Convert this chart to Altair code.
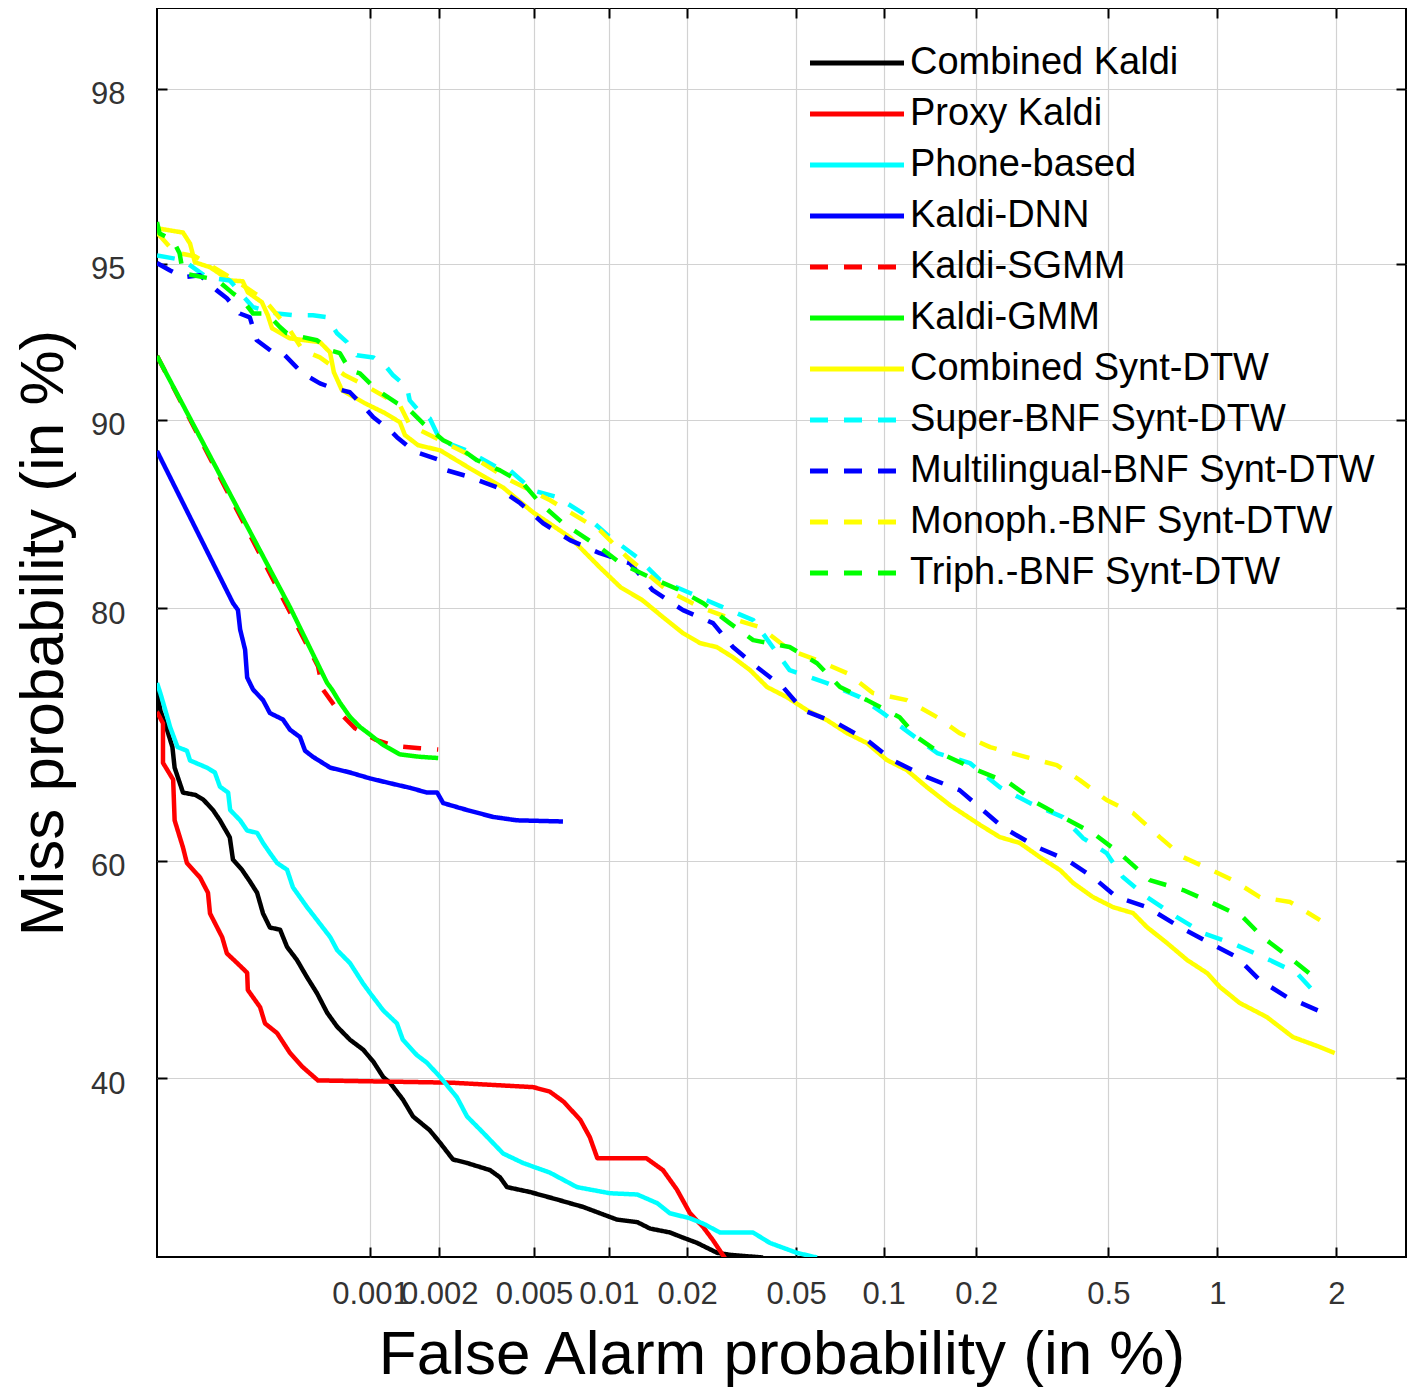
import altair as alt
import pandas as pd
from statistics import NormalDist

ND = NormalDist()

SERIES = ["Combined Kaldi", "Proxy Kaldi", "Phone-based", "Kaldi-DNN", "Kaldi-SGMM",
          "Kaldi-GMM", "Combined Synt-DTW", "Super-BNF Synt-DTW",
          "Multilingual-BNF Synt-DTW", "Monoph.-BNF Synt-DTW", "Triph.-BNF Synt-DTW"]
COLORS = ["#000000", "#ff0000", "#00ffff", "#0000ff", "#ff0000", "#00ff00",
          "#ffff00", "#00ffff", "#0000ff", "#ffff00", "#00ff00"]
SOLID = [1, 0]
DASH = [18, 16]
DASHES = [SOLID, SOLID, SOLID, SOLID, DASH, SOLID, SOLID, DASH, DASH, DASH, DASH]

X_TICKS = [0.001, 0.002, 0.005, 0.01, 0.02, 0.05, 0.1, 0.2, 0.5, 1, 2]
Y_TICKS = [40, 60, 80, 90, 95, 98]
X_RANGE_PCT = [0.0001, 2.907]
Y_RANGE_PCT = [25.14, 98.75]

# ---- data: false alarm (%) and miss (%) per system ----
COMB_KALDI_FA = [0.0001, 0.000104, 0.000112, 0.000119, 0.000122, 0.000134, 0.000154, 0.000168,
                 0.000187, 0.000202, 0.000225, 0.000233, 0.000257, 0.000281, 0.000303, 0.000323,
                 0.000348, 0.000388, 0.000418, 0.000464, 0.000516, 0.000574, 0.000638, 0.000709,
                 0.00081, 0.000927, 0.00103, 0.00114, 0.00122, 0.00139, 0.00154, 0.00182, 0.00202,
                 0.00229, 0.00263, 0.00329, 0.00362, 0.00387, 0.00482, 0.0062, 0.0079, 0.0095,
                 0.01075, 0.0129, 0.01445, 0.0172, 0.0193, 0.0218, 0.0259, 0.0289, 0.0381]
COMB_KALDI_MISS = [74.1, 72.7, 71.2, 69.8, 68.1, 66.0, 65.8, 65.4, 64.5, 63.6, 62.1, 60.1, 59.2,
                   58.1, 57.1, 55.2, 53.9, 53.7, 52.1, 50.9, 49.3, 47.8, 46.0, 44.7, 43.5, 42.6,
                   41.5, 40.1, 39.6, 38.1, 36.6, 35.4, 34.3, 32.9, 32.6, 32.0, 31.4, 30.6, 30.2,
                   29.6, 29.0, 28.4, 28.0, 27.8, 27.3, 27.0, 26.6, 26.2, 25.45, 25.3, 25.1]

PROXY_FA = [0.0001, 0.000107, 0.000107, 0.00012, 0.000122, 0.000134, 0.00014, 0.000162, 0.000177,
            0.000181, 0.000207, 0.000218, 0.000244, 0.000272, 0.000274, 0.000313, 0.00033,
            0.000376, 0.000431, 0.000494, 0.00058, 0.00225, 0.00496, 0.0058, 0.0066, 0.0077,
            0.0084, 0.009, 0.014, 0.0162, 0.0183, 0.0205, 0.023, 0.025, 0.028]
PROXY_MISS = [72.6, 71.7, 68.5, 67.1, 63.6, 61.2, 59.8, 58.5, 57.1, 55.2, 53.0, 51.5, 50.6, 49.7,
              48.1, 46.5, 45.0, 44.1, 42.3, 41.0, 39.8, 39.6, 39.2, 38.8, 37.9, 36.3, 34.8, 33.0,
              33.0, 32.0, 30.4, 28.5, 27.4, 26.4, 24.9]

PHONE_FA = [0.0001, 0.000104, 0.00011, 0.000116, 0.000126, 0.00014, 0.000145, 0.000175, 0.000191,
            0.000202, 0.000221, 0.000226, 0.000252, 0.000272, 0.000303, 0.000323, 0.000348,
            0.000376, 0.000418, 0.000445, 0.000516, 0.000574, 0.00066, 0.000709, 0.00081,
            0.000927, 0.000997, 0.00114, 0.00131, 0.00139, 0.0016, 0.00177, 0.00202, 0.00238,
            0.00263, 0.00307, 0.00373, 0.00451, 0.0058, 0.00747, 0.0101, 0.0129, 0.0154, 0.0172,
            0.0205, 0.0229, 0.0265, 0.035, 0.0403, 0.0503, 0.0592]
PHONE_MISS = [74.8, 74.0, 72.7, 71.4, 69.8, 69.5, 68.7, 68.1, 67.7, 66.5, 66.0, 64.5, 63.6, 62.7,
              62.5, 61.6, 60.7, 59.8, 59.2, 57.6, 55.8, 54.6, 53.0, 51.8, 50.6, 48.7, 47.8, 46.2,
              45.0, 43.5, 42.1, 41.4, 40.1, 38.3, 36.6, 35.2, 33.4, 32.6, 31.8, 30.6, 30.1, 30.0,
              29.3, 28.5, 28.1, 27.7, 27.0, 27.0, 26.2, 25.45, 25.1]

DNN_FA = [0.0001, 0.000233, 0.000246, 0.000252, 0.000266, 0.000272, 0.00029, 0.000323, 0.000348,
          0.0004, 0.000431, 0.00048, 0.000506, 0.00055, 0.00066, 0.00081, 0.000997, 0.00122,
          0.0015, 0.00177, 0.00196, 0.00208, 0.00263, 0.00338, 0.00426, 0.00656]
DNN_MISS = [88.66, 80.35, 79.9, 78.6, 77.2, 75.2, 74.3, 73.5, 72.5, 72.0, 71.2, 70.6, 69.5, 69.0,
            68.1, 67.7, 67.2, 66.8, 66.4, 66.0, 66.0, 65.1, 64.5, 63.9, 63.6, 63.5]

SGMM_FA = [0.0001, 0.00058, 0.000611, 0.00073, 0.000854, 0.00105, 0.00128, 0.00165, 0.00198]
SGMM_MISS = [92.37, 76.03, 74.3, 72.5, 71.3, 70.4, 69.9, 69.7, 69.6]

GMM_FA = [0.0001, 0.000431, 0.000638, 0.000672, 0.00073, 0.00081, 0.000899, 0.000997, 0.00114,
          0.00135, 0.00165, 0.00198]
GMM_MISS = [92.37, 80.09, 74.8, 74.3, 73.3, 72.2, 71.4, 70.8, 69.96, 69.2, 69.0, 68.9]

COMB_DTW_FA = [0.0001, 0.000134, 0.000145, 0.000153, 0.000181, 0.000225, 0.000259, 0.000274,
               0.000319, 0.00034, 0.000356, 0.000431, 0.000592, 0.000658, 0.000685, 0.000745,
               0.000944, 0.00116, 0.00135, 0.00142, 0.00162, 0.00202, 0.0027, 0.00372, 0.00495,
               0.007, 0.0092, 0.0111, 0.0135, 0.0162, 0.0193, 0.0224, 0.0258, 0.0296, 0.0342,
               0.0394, 0.0463, 0.0546, 0.0641, 0.0752, 0.0879, 0.1026, 0.1194, 0.139, 0.165,
               0.206, 0.237, 0.273, 0.314, 0.361, 0.395, 0.451, 0.515, 0.588, 0.643, 0.731, 0.83,
               0.939, 1.016, 1.145, 1.343, 1.563, 1.824, 1.98]
COMB_DTW_MISS = [95.80, 95.71, 95.47, 95.04, 94.92, 94.59, 94.57, 94.28, 94.01, 93.64, 93.25,
                 92.94, 92.82, 92.49, 91.81, 91.16, 90.66, 90.27, 89.90, 89.36, 88.92, 88.69,
                 87.87, 86.95, 85.68, 84.32, 82.58, 81.36, 80.54, 79.43, 78.35, 77.66, 77.39,
                 76.67, 75.74, 74.49, 73.73, 72.73, 71.95, 70.92, 70.12, 68.73, 67.90, 66.46,
                 64.92, 63.18, 62.12, 61.60, 60.34, 59.17, 57.99, 56.71, 55.79, 55.23, 53.94,
                 52.46, 50.88, 49.67, 48.37, 46.89, 45.60, 43.75, 42.83, 42.28]

SUPER_FA = [0.0001, 0.000134, 0.000175, 0.000225, 0.000271, 0.00029, 0.000375, 0.000445, 0.00055,
            0.000637, 0.000708, 0.000785, 0.00087, 0.00103, 0.00118, 0.00126, 0.00145, 0.00149,
            0.00165, 0.00182, 0.00202, 0.00262, 0.00352, 0.00398, 0.00495, 0.00621, 0.00789,
            0.0101, 0.0129, 0.0158, 0.0206, 0.0288, 0.0351, 0.042, 0.0474, 0.0641, 0.0832,
            0.0995, 0.122, 0.150, 0.191, 0.237, 0.293, 0.368, 0.422, 0.494, 0.550, 0.643, 0.778,
            0.916, 1.124, 1.368, 1.60, 1.824]
SUPER_MISS = [95.20, 95.09, 94.67, 94.59, 94.06, 93.87, 93.69, 93.64, 93.64, 93.58, 93.10, 92.82,
              92.39, 92.32, 91.98, 91.70, 91.27, 90.77, 90.31, 90.06, 89.14, 88.69, 87.91, 87.77,
              86.80, 86.46, 85.62, 84.32, 83.17, 81.80, 80.98, 79.89, 79.23, 77.18, 75.74, 74.78,
              73.73, 72.50, 70.92, 69.31, 68.48, 66.46, 65.10, 63.88, 62.04, 60.70, 58.53, 56.71,
              54.86, 53.39, 52.27, 50.88, 49.67, 47.35]

MULTI_FA = [0.0001, 0.000116, 0.000134, 0.000162, 0.000195, 0.000218, 0.000251, 0.00028,
            0.000302, 0.000359, 0.0004, 0.000463, 0.000494, 0.000592, 0.000658, 0.000809,
            0.000964, 0.00103, 0.00122, 0.00131, 0.00154, 0.00165, 0.00202, 0.00216, 0.00262,
            0.00352, 0.00439, 0.00545, 0.007, 0.0092, 0.0121, 0.0148, 0.0193, 0.025, 0.0296,
            0.0362, 0.0449, 0.0528, 0.0694, 0.0879, 0.107, 0.139, 0.177, 0.242, 0.308, 0.379,
            0.451, 0.528, 0.643, 0.793, 0.956, 1.124, 1.29, 1.51, 1.84]
MULTI_MISS = [95.02, 94.84, 94.67, 94.72, 94.33, 94.12, 93.69, 93.58, 92.88, 92.49, 92.46, 91.98,
              91.77, 91.41, 91.27, 91.08, 90.39, 90.10, 89.57, 89.27, 88.69, 88.56, 88.24, 87.77,
              87.50, 86.95, 86.15, 85.09, 84.16, 83.41, 82.82, 81.17, 79.89, 79.03, 77.39, 75.96,
              74.49, 72.73, 71.71, 70.36, 68.73, 67.31, 66.21, 63.00, 61.23, 60.07, 58.53, 56.71,
              55.79, 53.94, 52.46, 51.16, 49.02, 47.45, 46.06]

MONO_FA = [0.0001, 0.000122, 0.000153, 0.000181, 0.000251, 0.00033, 0.000431, 0.000494, 0.000592,
           0.000769, 0.000944, 0.00135, 0.00149, 0.00202, 0.0027, 0.00398, 0.00582, 0.0092,
           0.0118, 0.0168, 0.0224, 0.0281, 0.0372, 0.0474, 0.0592, 0.0752, 0.092, 0.1194, 0.150,
           0.177, 0.221, 0.286, 0.353, 0.413, 0.494, 0.588, 0.698, 0.809, 0.939, 1.097, 1.29,
           1.54, 1.824]
MONO_MISS = [95.71, 95.27, 95.18, 94.97, 94.52, 94.06, 93.19, 92.56, 92.32, 91.70, 91.34, 90.58,
             89.78, 89.14, 88.47, 87.30, 86.30, 84.71, 83.17, 81.17, 80.09, 79.43, 78.76, 77.18,
             76.46, 75.52, 74.04, 73.50, 72.18, 70.92, 69.79, 68.98, 68.31, 67.06, 65.36, 64.23,
             62.12, 60.34, 59.35, 58.26, 56.71, 56.25, 54.59]

TRI_FA = [0.0001, 0.000103, 0.00012, 0.000129, 0.000134, 0.000181, 0.000202, 0.000233, 0.000259,
          0.00029, 0.000337, 0.000387, 0.000417, 0.000494, 0.000574, 0.000658, 0.000729,
          0.000809, 0.000897, 0.00107, 0.00131, 0.00149, 0.0017, 0.00208, 0.00253, 0.0029,
          0.00362, 0.00451, 0.0053, 0.00656, 0.0092, 0.0111, 0.0144, 0.0188, 0.023, 0.0288,
          0.0351, 0.0474, 0.0592, 0.0711, 0.0879, 0.113, 0.129, 0.153, 0.201, 0.254, 0.308,
          0.368, 0.451, 0.538, 0.655, 0.809, 0.973, 1.166, 1.312, 1.563, 1.824]
TRI_MISS = [95.93, 95.69, 95.54, 95.25, 94.77, 94.64, 94.54, 94.25, 94.06, 93.69, 93.69, 93.29,
            93.10, 92.98, 92.88, 92.56, 92.46, 91.88, 91.77, 91.16, 90.66, 90.39, 89.86, 89.14,
            88.69, 88.24, 87.77, 87.15, 86.15, 85.09, 83.75, 82.82, 81.98, 81.17, 80.34, 79.03,
            77.87, 77.39, 76.24, 74.49, 73.50, 72.18, 70.60, 69.31, 67.90, 66.80, 65.10, 63.88,
            62.48, 60.70, 58.26, 57.35, 56.15, 54.86, 53.01, 50.88, 48.84]

FA_LISTS = [COMB_KALDI_FA, PROXY_FA, PHONE_FA, DNN_FA, SGMM_FA, GMM_FA, COMB_DTW_FA,
            SUPER_FA, MULTI_FA, MONO_FA, TRI_FA]
MISS_LISTS = [COMB_KALDI_MISS, PROXY_MISS, PHONE_MISS, DNN_MISS, SGMM_MISS, GMM_MISS,
              COMB_DTW_MISS, SUPER_MISS, MULTI_MISS, MONO_MISS, TRI_MISS]


def dev(pct):
    """normal deviate of a percentage (DET-plot warping)"""
    return ND.inv_cdf(pct / 100.0)


rows = []
for name, fa, miss in zip(SERIES, FA_LISTS, MISS_LISTS):
    assert len(fa) == len(miss), name
    for i, (f, m) in enumerate(zip(fa, miss)):
        rows.append({"series": name, "idx": i, "fa": f, "miss": m,
                     "fx": dev(f), "my": dev(m)})
df = pd.DataFrame(rows)

FONT = "Liberation Sans"
x_scale = alt.Scale(domain=[dev(X_RANGE_PCT[0]), dev(X_RANGE_PCT[1])], nice=False, zero=False)
y_scale = alt.Scale(domain=[dev(Y_RANGE_PCT[0]), dev(Y_RANGE_PCT[1])], nice=False, zero=False)
x_vals = [dev(v) for v in X_TICKS]
y_vals = [dev(v) for v in Y_TICKS]

x_axis = alt.Axis(
    orient="bottom", values=x_vals,
    labelExpr="format(cumulativeNormal(datum.value) * 100, '.1~g')",
    offset=-10, tickSize=10, tickWidth=2, tickColor="black", domain=False,
    grid=True, gridColor="#d2d2d2", gridWidth=1.2,
    labelFont=FONT, labelFontSize=31, labelColor="#333333", labelPadding=22,
    labelOverlap=False, labelFlush=False, labelBound=False,
    title="False Alarm probability (in %)", titleFont=FONT, titleFontSize=62,
    titleFontWeight="normal", titleColor="black", titlePadding=15,
)
y_axis = alt.Axis(
    orient="left", values=y_vals,
    labelExpr="format(cumulativeNormal(datum.value) * 100, '.2~g')",
    offset=-10, tickSize=10, tickWidth=2, tickColor="black", domain=False,
    grid=True, gridColor="#d2d2d2", gridWidth=1.2,
    labelFont=FONT, labelFontSize=31, labelColor="#333333", labelPadding=32,
    labelOffset=6, labelOverlap=False, labelFlush=False, labelBound=False,
    title="Miss probability (in %)", titleFont=FONT, titleFontSize=62,
    titleFontWeight="normal", titleColor="black", titlePadding=15,
)

legend = alt.Legend(
    title=None, orient="none", legendX=681, legendY=36,
    symbolType="M-3,0H3", symbolSize=982, symbolStrokeWidth=5,
    labelFont=FONT, labelFontSize=38, labelColor="black", labelOffset=34,
    rowPadding=13, labelLimit=800, padding=0,
)

lines = alt.Chart(df).mark_line(strokeWidth=4.5, clip=True, strokeJoin="round").encode(
    x=alt.X("fx:Q", scale=x_scale, axis=x_axis),
    y=alt.Y("my:Q", scale=y_scale, axis=y_axis),
    color=alt.Color("series:N", scale=alt.Scale(domain=SERIES, range=COLORS), legend=legend),
    strokeDash=alt.StrokeDash("series:N", scale=alt.Scale(domain=SERIES, range=DASHES),
                              legend=legend),
    order=alt.Order("idx:Q"),
)

frame_ticks = alt.Chart(df).mark_point(opacity=0, size=0).encode(
    x=alt.X("fx:Q", scale=x_scale,
            axis=alt.Axis(orient="top", values=x_vals, labels=False, offset=-10, tickSize=10,
                          tickWidth=2, tickColor="black", domain=False, grid=False, title=None)),
    y=alt.Y("my:Q", scale=y_scale,
            axis=alt.Axis(orient="right", values=y_vals, labels=False, offset=-10, tickSize=10,
                          tickWidth=2, tickColor="black", domain=False, grid=False, title=None)),
)

chart = (
    alt.layer(lines, frame_ticks)
    .resolve_axis(x="independent", y="independent")
    .properties(width=1249, height=1249,
                autosize=alt.AutoSizeParams(type="none"),
                padding={"left": 149, "top": 0, "right": 1, "bottom": 131})
    .configure(font=FONT)
    .configure_view(stroke="black", strokeWidth=2)
)

chart.save("out.html", embed_options={"renderer": "svg", "actions": False})
